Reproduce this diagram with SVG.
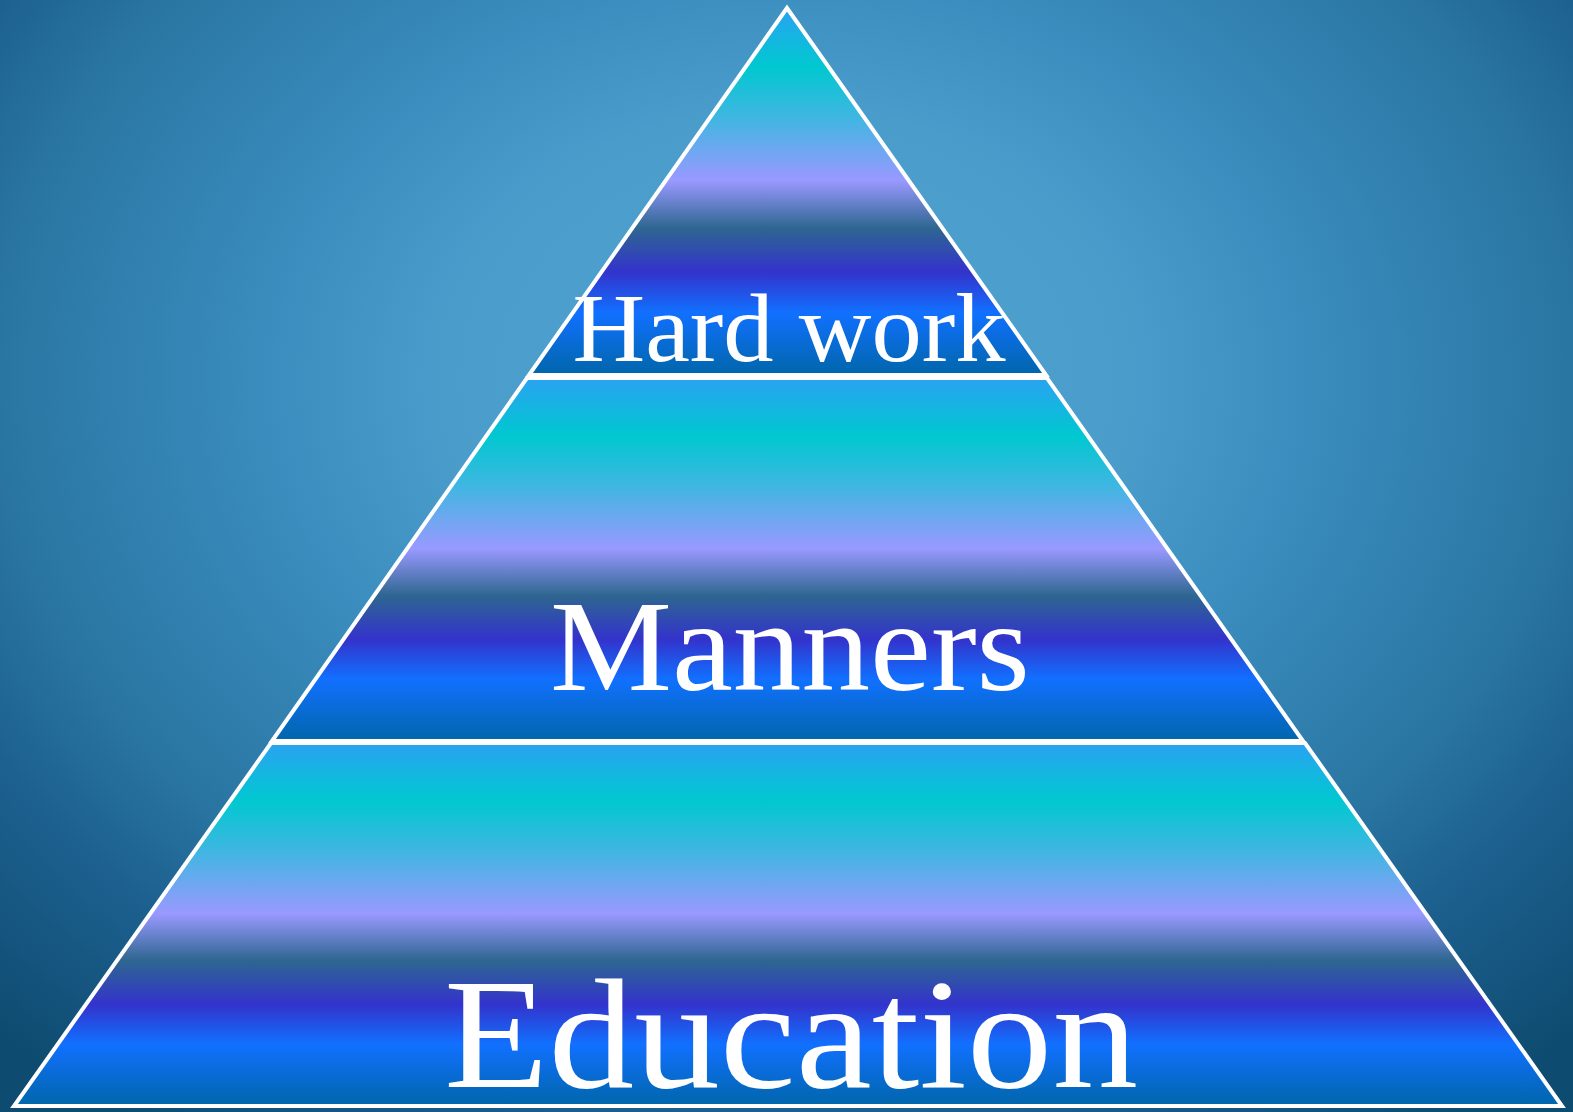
<svg xmlns="http://www.w3.org/2000/svg" width="1573" height="1112" viewBox="0 0 1573 1112">
<defs>
<radialGradient id="bg" gradientUnits="userSpaceOnUse" cx="786" cy="380" r="1150" gradientTransform="translate(0,380) scale(1,0.783) translate(0,-380)">
<stop offset="0" stop-color="#50a4d2"/>
<stop offset="0.3" stop-color="#4a9ccb"/>
<stop offset="0.45" stop-color="#3a8dbe"/>
<stop offset="0.68" stop-color="#2a76a3"/>
<stop offset="0.8" stop-color="#1d6190"/>
<stop offset="1" stop-color="#0e4b70"/>
</radialGradient>
<linearGradient id="band" x1="0" y1="0" x2="0" y2="1">
<stop offset="0" stop-color="#2aa2f2"/>
<stop offset="0.16" stop-color="#00c8d0"/>
<stop offset="0.3" stop-color="#40b6e2"/>
<stop offset="0.47" stop-color="#9999ff"/>
<stop offset="0.6" stop-color="#2e6690"/>
<stop offset="0.72" stop-color="#3333cc"/>
<stop offset="0.83" stop-color="#1170ff"/>
<stop offset="1" stop-color="#0066aa"/>
</linearGradient>
<style>
.seg{fill:url(#band);stroke:#ffffff;stroke-width:4;stroke-linejoin:miter}
.lbl{font-family:"Liberation Serif","DejaVu Serif",serif;fill:#ffffff;text-anchor:middle}
</style>
</defs>
<rect x="0" y="0" width="1573" height="1112" fill="url(#bg)"/>
<g id="level-top">
<polygon class="seg" points="787,8 529,375 1046,375"/>
<text class="lbl" x="789" y="361" font-size="98" textLength="433" lengthAdjust="spacingAndGlyphs">Hard work</text>
</g>
<g id="level-middle">
<polygon class="seg" points="527,378 1047,378 1303,741 272,741"/>
<text class="lbl" x="790" y="690" font-size="130" textLength="480" lengthAdjust="spacingAndGlyphs">Manners</text>
</g>
<g id="level-bottom">
<polygon class="seg" points="271,743 1305,743 1562,1106 14,1106"/>
<text class="lbl" x="791" y="1087" font-size="157" textLength="694" lengthAdjust="spacingAndGlyphs">Education</text>
</g>
<g id="connectors"/>
</svg>
